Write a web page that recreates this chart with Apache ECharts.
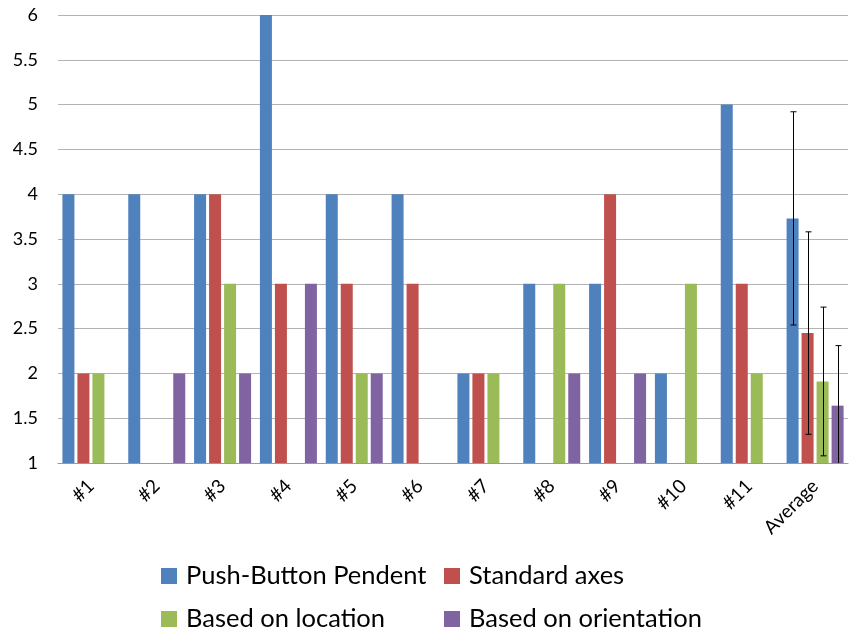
<!DOCTYPE html>
<html>
<head>
<meta charset="utf-8">
<script src="https://cdn.jsdelivr.net/npm/echarts@6/dist/echarts.min.js"></script>
<style>html,body{margin:0;padding:0;background:#fff}#c{width:849px;height:632px}</style>
</head>
<body>
<div id="c"></div>
<script>
var categories = ['#1','#2','#3','#4','#5','#6','#7','#8','#9','#10','#11','Average'];
var seriesNames = ['Push-Button Pendent','Standard axes','Based on location','Based on orientation'];
var pushButton  = [4,4,4,6,4,4,2,3,3,2,5,3.73];
var standardAxes = [2,1,4,3,3,3,2,1,4,1,3,2.45];
var basedLocation = [2,1,3,1,2,1,2,3,1,3,2,1.91];
var basedOrientation = [1,2,2,3,2,1,1,2,2,1,1,1.64];
var averageErrors = [1.19,1.13,0.83,0.67];
var yTicks = {min:1, max:6, interval:0.5};

var colors = ['#4F81BD','#C0504D','#9BBB59','#8064A2'];
var allValues = [pushButton, standardAxes, basedLocation, basedOrientation];
var FONT = 'Lato';
var BAR_W = 12, BAR_STEP = 15;

var chart = echarts.init(document.getElementById('c'));
var series = allValues.map(function(vals, i){
  return {
    name: seriesNames[i], type:'bar', data: vals, barWidth: BAR_W, barGap:'25%',
    itemStyle:{color:colors[i]}, silent:true
  };
});
var avgIdx = categories.length - 1;
series.push({
  type:'custom', silent:true, z:10,
  data: allValues.map(function(v,i){ return [avgIdx, v[avgIdx], averageErrors[i], i]; }),
  renderItem: function(params, api){
    var cat = api.value(0), val = api.value(1), err = api.value(2), si = api.value(3);
    var off = (si - 1.5) * BAR_STEP;
    var hiV = val + err, loV = Math.max(val - err, yTicks.min);
    var hi = api.coord([cat, hiV]), lo = api.coord([cat, loV]);
    var x = Math.round(hi[0] + off) + 0.5;
    var st = {stroke:'#000', lineWidth:1};
    var kids = [
      {type:'line', shape:{x1:x,y1:hi[1],x2:x,y2:lo[1]}, style:st},
      {type:'line', shape:{x1:x-3,y1:hi[1],x2:x+3,y2:hi[1]}, style:st}
    ];
    if (val - err >= yTicks.min) kids.push({type:'line', shape:{x1:x-3,y1:lo[1],x2:x+3,y2:lo[1]}, style:st});
    return {type:'group', children:kids};
  }
});

function leg(name, left, top){
  return {data:[name], left:left, top:top, itemWidth:16, itemHeight:16, icon:'rect', padding:0,
    selectedMode:false, textStyle:{fontFamily:FONT, fontSize:25.5, color:'#000', padding:[0,0,0,4]}};
}

chart.setOption({
  animation:false,
  color: colors,
  grid:{left:58, right:1, top:15, bottom:169},
  legend:[
    leg(seriesNames[0],161,563), leg(seriesNames[1],444,563),
    leg(seriesNames[2],161,606), leg(seriesNames[3],444,606)
  ],
  xAxis:{type:'category', data:categories,
    axisLine:{lineStyle:{color:'#999',width:1}}, axisTick:{show:false},
    axisLabel:{rotate:45, fontFamily:FONT, fontSize:19, color:'#000', margin:20, interval:0}},
  yAxis:{type:'value', min:yTicks.min, max:yTicks.max, interval:yTicks.interval,
    axisLine:{show:false}, axisTick:{show:false},
    splitLine:{lineStyle:{color:'#b3b3b3', width:1}},
    axisLabel:{fontFamily:FONT, fontSize:18, color:'#000', margin:20}},
  series: series
});
</script>
</body>
</html>
